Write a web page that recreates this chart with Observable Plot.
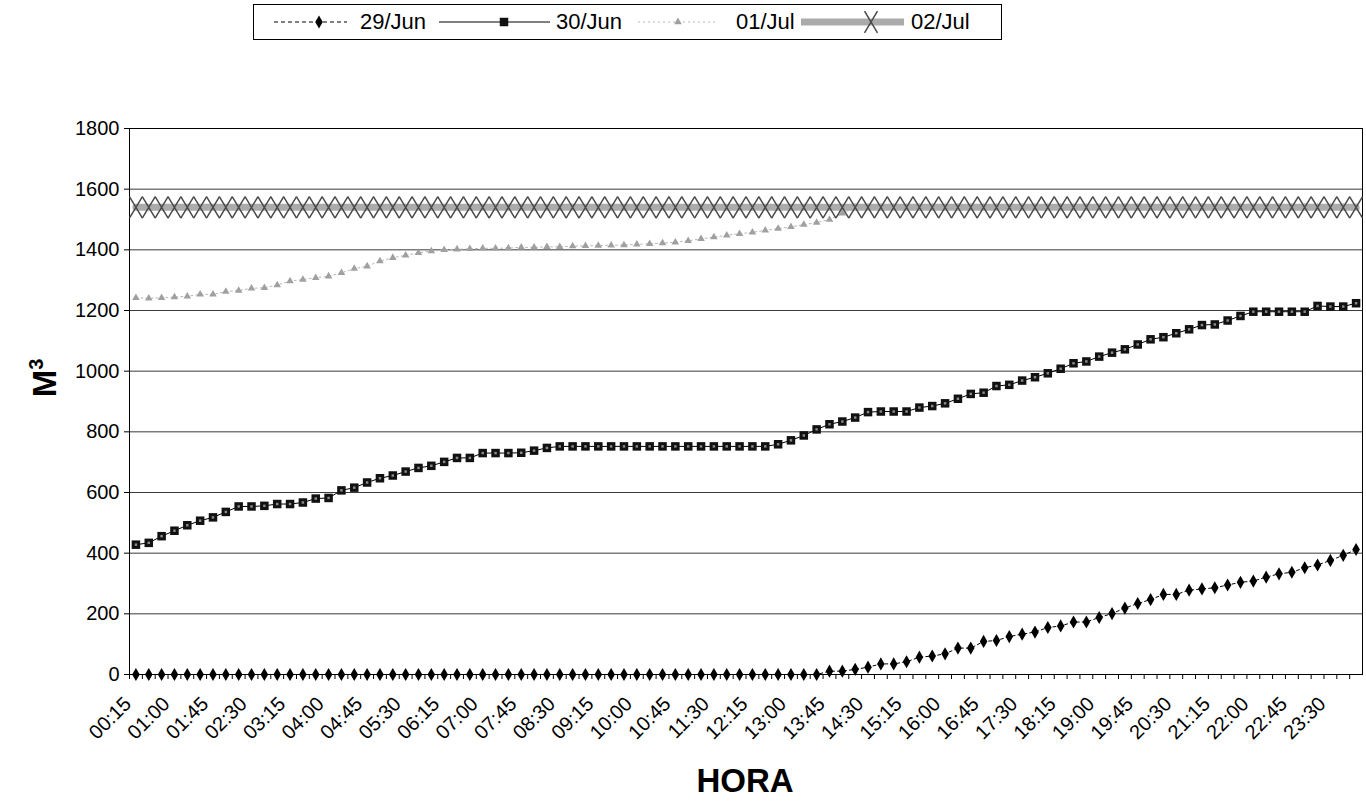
<!DOCTYPE html>
<html><head><meta charset="utf-8">
<script src="https://cdn.jsdelivr.net/npm/d3@7"></script>
<script src="https://cdn.jsdelivr.net/npm/@observablehq/plot@0.6"></script>
<style>
body{margin:0;background:#fff;font-family:"Liberation Sans",Arial,sans-serif;}
#wrap{position:relative;width:1366px;height:801px;overflow:hidden;background:#fff}
#legend{position:relative;height:48px;}
#box{position:absolute;left:253px;top:4px;width:747px;height:34px;border:1px solid #000;}
#box svg{position:absolute;top:0;left:0}
.lt{position:absolute;top:5px;font-size:22px;line-height:24px;color:#000;}
</style></head>
<body><div id="wrap"><div id="legend"><div id="box"></div></div><div id="chart"></div></div>
<script>
const times = ["00:15","00:30","00:45","01:00","01:15","01:30","01:45","02:00","02:15","02:30","02:45","03:00","03:15","03:30","03:45","04:00","04:15","04:30","04:45","05:00","05:15","05:30","05:45","06:00","06:15","06:30","06:45","07:00","07:15","07:30","07:45","08:00","08:15","08:30","08:45","09:00","09:15","09:30","09:45","10:00","10:15","10:30","10:45","11:00","11:15","11:30","11:45","12:00","12:15","12:30","12:45","13:00","13:15","13:30","13:45","14:00","14:15","14:30","14:45","15:00","15:15","15:30","15:45","16:00","16:15","16:30","16:45","17:00","17:15","17:30","17:45","18:00","18:15","18:30","18:45","19:00","19:15","19:30","19:45","20:00","20:15","20:30","20:45","21:00","21:15","21:30","21:45","22:00","22:15","22:30","22:45","23:00","23:15","23:30","23:45","24:00"];
const tickLabels = ["00:15","01:00","01:45","02:30","03:15","04:00","04:45","05:30","06:15","07:00","07:45","08:30","09:15","10:00","10:45","11:30","12:15","13:00","13:45","14:30","15:15","16:00","16:45","17:30","18:15","19:00","19:45","20:30","21:15","22:00","22:45","23:30"];
const yTicks = [0,200,400,600,800,1000,1200,1400,1600,1800];
const seriesNames = ["29/Jun","30/Jun","01/Jul","02/Jul"];
const jun29 = [0,0,0,0,0,0,0,0,0,0,
 0,0,0,0,0,0,0,0,0,0,
 0,0,0,0,0,0,0,0,0,0,
 0,0,0,0,0,0,0,0,0,0,
 0,0,0,0,0,0,0,0,0,0,
 0,0,0,0,
 11,11,17,24,35,35,42,57,61,68,
 87,87,109,112,125,133,140,155,160,173,
 173,188,201,219,234,247,264,264,278,282,
 286,295,304,308,321,332,337,352,361,376,
 393,412];
const jun30 = [428,434,456,474,492,507,518,536,554,554,
 556,562,562,567,580,582,607,616,633,647,
 656,669,681,688,701,714,714,730,730,730,
 731,738,747,752,752,752,752,752,752,752,
 752,752,752,752,752,752,752,752,752,752,
 759,772,788,808,825,834,847,865,867,867,
 867,880,885,894,909,925,929,951,955,969,
 980,993,1008,1026,1032,1048,1061,1072,1088,1105,
 1112,1125,1138,1152,1154,1167,1182,1196,1196,1196,
 1196,1196,1215,1213,1213,1224];
const jul01 = [1242,1240,1242,1244,1247,1253,1253,1262,1266,1273,
 1275,1284,1297,1302,1308,1313,1324,1338,1346,1363,
 1374,1382,1390,1396,1400,1402,1403,1405,1405,1406,
 1408,1408,1410,1410,1412,1413,1414,1415,1416,1418,
 1420,1422,1425,1430,1436,1442,1448,1453,1458,1464,
 1470,1476,1483,1490,1500,1520,1540,1540,1540,1540,
 1540,1540,1540,1540,1540,1540,1540,1540,1540,1540,
 1540,1540,1540,1540,1540,1540,1540,1540,1540,1540,
 1540,1540,1540,1540,1540,1540,1540,1540,1540,1540,
 1540,1540,1540,1540,1540,1540];
const jul02 = [1540,1540,1540,1540,1540,1540,1540,1540,1540,1540,
 1540,1540,1540,1540,1540,1540,1540,1540,1540,1540,
 1540,1540,1540,1540,1540,1540,1540,1540,1540,1540,
 1540,1540,1540,1540,1540,1540,1540,1540,1540,1540,
 1540,1540,1540,1540,1540,1540,1540,1540,1540,1540,
 1540,1540,1540,1540,1540,1540,1540,1540,1540,1540,
 1540,1540,1540,1540,1540,1540,1540,1540,1540,1540,
 1540,1540,1540,1540,1540,1540,1540,1540,1540,1540,
 1540,1540,1540,1540,1540,1540,1540,1540,1540,1540,
 1540,1540,1540,1540,1540,1540];

const rows = (vals, s) => times.map((t, i) => ({t, v: vals[i], s}));
const d29 = rows(jun29, seriesNames[0]);
const d30 = rows(jun30, seriesNames[1]);
const d01 = rows(jul01, seriesNames[2]);
const d02 = rows(jul02, seriesNames[3]);

const W = 1366, H = 753, mL = 129, mR = 4, mT = 80, mB = 127;
const step = (W - mL - mR) / times.length;

const tallX = {draw(ctx, size) {
  const r = Math.sqrt(size / Math.PI), w = r * 0.72, h = r * 1.2;
  ctx.moveTo(-w, -h); ctx.lineTo(w, h); ctx.moveTo(w, -h); ctx.lineTo(-w, h);
}};

const chart = Plot.plot({
  width: W, height: H, marginLeft: mL, marginRight: mR, marginTop: mT, marginBottom: mB,
  style: {fontFamily: "'Liberation Sans', Arial, sans-serif", color: "#000", background: "#fff"},
  x: {type: "point", domain: times, padding: 0.5, axis: null},
  y: {domain: [0, 1800], axis: null},
  marks: [
    Plot.gridY(yTicks, {stroke: "#3a3a3a", strokeOpacity: 1, strokeWidth: 1}),
    Plot.frame({stroke: "#000"}),
    Plot.axisY(yTicks, {tickSize: 5, tickPadding: 5, fontSize: 20, label: null, stroke: "#000", tickFormat: d => String(d)}),
    Plot.axisX(times, {tickSize: 5, dx: -step / 2, tickFormat: () => "", label: null, stroke: "#000"}),
    Plot.axisX(tickLabels, {tickSize: 0, tickRotate: -45, tickPadding: 26, dx: -8, fontSize: 20, label: null}),
    // 29/Jun
    Plot.line(d29, {x: "t", y: "v", stroke: "#000", strokeWidth: 1, strokeDasharray: "3,3"}),
    Plot.dot(d29, {x: "t", y: "v", symbol: "diamond", r: 4, fill: "#000"}),
    // 30/Jun
    Plot.line(d30, {x: "t", y: "v", stroke: "#000", strokeWidth: 1}),
    Plot.dot(d30, {x: "t", y: "v", symbol: "square", r: 4.8, fill: "#111"}),
    Plot.dot(d30, {x: "t", y: "v", symbol: "square", r: 1.4, fill: "#8a8a8a"}),
    // 01/Jul
    Plot.line(d01, {x: "t", y: "v", stroke: "#b8b8b8", strokeWidth: 1, strokeDasharray: "2,3"}),
    Plot.dot(d01, {x: "t", y: "v", symbol: "triangle", r: 2.8, fill: "#a0a0a0"}),
    // 02/Jul
    Plot.line(d02, {x: "t", y: "v", stroke: "#ababab", strokeWidth: 7}),
    Plot.dot(d02, {x: "t", y: "v", symbol: tallX, r: 9, stroke: "#4a4a4a", strokeWidth: 1.5, fill: "none"})
  ]
});
document.getElementById("chart").appendChild(chart);

const svg = d3.select(chart);
const m = svg.append("text")
  .attr("transform", "translate(56,330) rotate(-90)")
  .attr("text-anchor", "middle")
  .attr("font-family", "'Liberation Sans', Arial, sans-serif")
  .attr("font-weight", "bold").attr("font-size", 33).attr("fill", "#000");
m.append("tspan").text("M");
m.append("tspan").attr("font-size", 20).attr("dy", -13).text("3");
svg.append("text")
  .attr("x", 745).attr("y", 744)
  .attr("text-anchor", "middle")
  .attr("font-family", "'Liberation Sans', Arial, sans-serif")
  .attr("font-weight", "bold").attr("font-size", 33).attr("fill", "#000")
  .text("HORA");

// legend
const box = d3.select("#box");
const ls = box.append("svg").attr("width", 747).attr("height", 34);
const cy = 17;
ls.append("line").attr("x1", 20).attr("x2", 93).attr("y1", cy).attr("y2", cy).attr("stroke", "#000").attr("stroke-dasharray", "4,3");
ls.append("path").attr("transform", `translate(65,${cy})`).attr("d", d3.symbol(d3.symbolDiamond, Math.PI * 16)()).attr("fill", "#000");
ls.append("line").attr("x1", 185).attr("x2", 296).attr("y1", cy).attr("y2", cy).attr("stroke", "#000");
ls.append("path").attr("transform", `translate(250,${cy})`).attr("d", d3.symbol(d3.symbolSquare, Math.PI * 23)()).attr("fill", "#111");
ls.append("line").attr("x1", 384).attr("x2", 464).attr("y1", cy).attr("y2", cy).attr("stroke", "#b8b8b8").attr("stroke-dasharray", "2,3");
ls.append("path").attr("transform", `translate(424,${cy})`).attr("d", d3.symbol(d3.symbolTriangle, Math.PI * 8)()).attr("fill", "#a0a0a0");
ls.append("line").attr("x1", 547).attr("x2", 650).attr("y1", cy).attr("y2", cy).attr("stroke", "#ababab").attr("stroke-width", 7);
ls.append("path").attr("transform", `translate(617,${cy})`).attr("d", d3.symbol(tallX, Math.PI * 81)()).attr("fill", "none").attr("stroke", "#4a4a4a").attr("stroke-width", 1.5);
const textLeft = [106, 302, 482, 657];
seriesNames.forEach((n, i) => {
  box.append("div").attr("class", "lt").style("left", textLeft[i] + "px").text(n);
});
</script>
</body></html>
